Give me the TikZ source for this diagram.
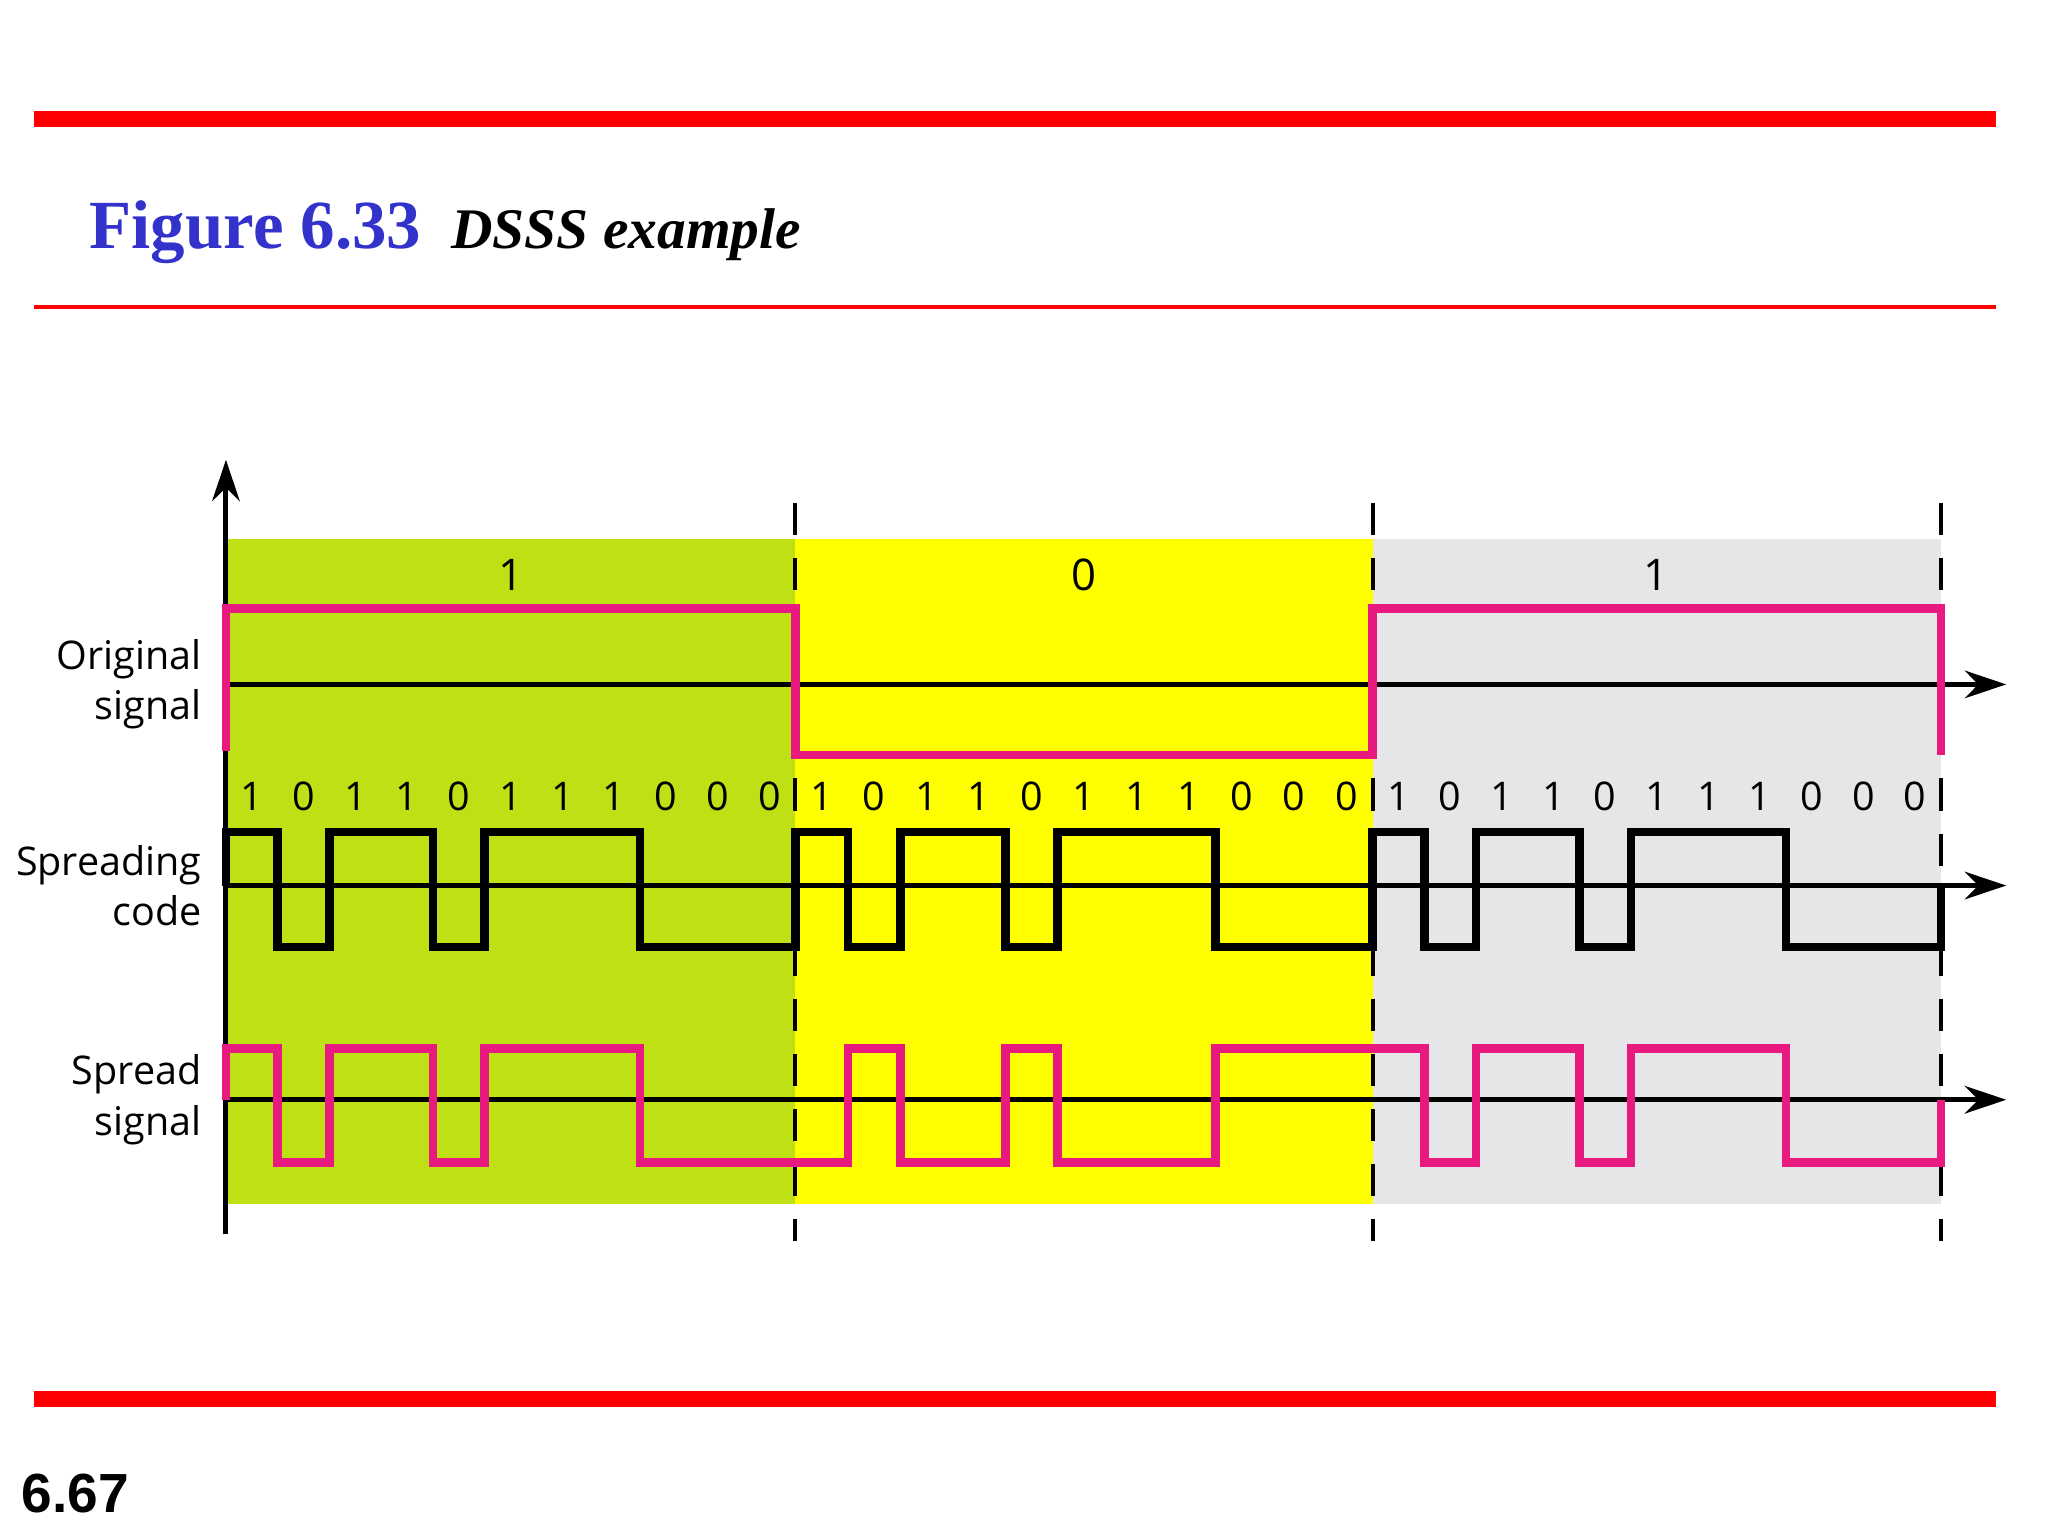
\documentclass[tikz,border=0pt]{standalone}
\usepackage{fontspec}
\setmainfont{Liberation Serif}
\newfontfamily\labf{Open Sans}
\newfontfamily\hvf{Liberation Sans}
\usetikzlibrary{arrows.meta}
\definecolor{pinkw}{HTML}{E8197F}
\definecolor{bggreen}{HTML}{BFE015}
\definecolor{bgyellow}{HTML}{FFFF00}
\definecolor{bggrey}{HTML}{E6E6E8}
\definecolor{titleblue}{HTML}{3333CC}
\definecolor{redbar}{HTML}{FF0000}
\tikzset{
  axisline/.style={line width=1.1pt,-{Stealth[length=9pt,width=6pt]}},
  dashline/.style={line width=0.9pt,dash pattern=on 7pt off 5pt},
  wave/.style={line width=1.9pt,line join=miter},
  lab/.style={font=\labf\fontsize{8.6}{11}\selectfont,align=right,anchor=east,inner sep=0pt},
  chiplab/.style={font=\labf\fontsize{8.6}{11}\selectfont},
}
\begin{document}
\begin{tikzpicture}[x=0.01cm,y=-0.01cm]
\useasboundingbox (0,0) rectangle (1568,1176);
% bars
\fill[redbar] (26,85) rectangle (1528,97);
\fill[redbar] (26,233.5) rectangle (1528,236.5);
\fill[redbar] (26,1065) rectangle (1528,1077);
\node[anchor=base west,inner sep=0,text=titleblue,font=\bfseries\fontsize{15}{18}\selectfont] (fig) at (68,190) {Figure 6.33};
\node[anchor=base west,inner sep=0,font=\bfseries\itshape\fontsize{12.5}{15}\selectfont] (ttl) at (345,190) {DSSS example};
\node[anchor=base west,inner sep=0,font=\hvf\bfseries\fontsize{12}{14}\selectfont] (pg) at (16,1158) {6.67};
% backgrounds
\fill[bggreen] (173,413) rectangle (609,922);
\fill[bgyellow] (609,413) rectangle (1051,922);
\fill[bggrey] (1051,413) rectangle (1486,922);
% dashed
\foreach \x/\n in {609/da,1051/db,1486/dc}{
  \coordinate (\n t) at (\x,385); \coordinate (\n b) at (\x,950);
  \draw[dashline] (\n t) -- (\n b);
}
% bit labels
\node[chiplab,font=\labf\fontsize{9.5}{12}\selectfont] (b1) at (391,440) {1};
\node[chiplab,font=\labf\fontsize{9.5}{12}\selectfont] (b2) at (830,440) {0};
\node[chiplab,font=\labf\fontsize{9.5}{12}\selectfont] (b3) at (1268,440) {1};
% axes
\coordinate (vb) at (173,945); \coordinate (vt) at (173,352);
\draw[axisline] (vb) -- (vt);
\foreach \y/\n in {524/a1,678/a2,842/a3}{
  \coordinate (\n s) at (173,\y); \coordinate (\n e) at (1536,\y);
  \draw[axisline] (\n s) -- (\n e);
}
% labels
\node[lab] (l1) at (155,524) {Original\\signal};
\node[lab] (l2) at (155,678) {Spreading\\code};
\node[lab] (l3) at (155,842) {Spread\\signal};
% original signal
\draw[wave,pinkw] (173,575) -- (173,466) -- (609,466) -- (609,578) -- (1051,578) -- (1051,466) -- (1486,466) -- (1486,578);
% chip labels
\foreach \s/\e in {173/609,609/1051,1051/1486}{
  \foreach \c [count=\i from 0, evaluate=\i as \xm using {\s+(\i+0.5)*(\e-\s)/11}] in {1,0,1,1,0,1,1,1,0,0,0}
    \node[chiplab] at (\xm,610) {\c};
}
% spreading code
\draw[wave,black] (173,678)
  \foreach \s/\e in {173/609,609/1051,1051/1486}{
    \foreach \c [count=\i from 0, evaluate=\i as \xa using {\s+\i*(\e-\s)/11}, evaluate=\i as \xb using {\s+(\i+1)*(\e-\s)/11}, evaluate=\c as \yc using {\c==1?637:725}] in {1,0,1,1,0,1,1,1,0,0,0}
      { -- (\xa,\yc) -- (\xb,\yc) }
  } -- (1486,678);
% spread signal
\draw[wave,pinkw] (173,842)
  \foreach \s/\e/\b in {173/609/1,609/1051/0,1051/1486/1}{
    \foreach \c [count=\i from 0, evaluate=\i as \xa using {\s+\i*(\e-\s)/11}, evaluate=\i as \xb using {\s+(\i+1)*(\e-\s)/11}, evaluate=\c as \yc using {\c==\b?803:890}] in {1,0,1,1,0,1,1,1,0,0,0}
      { -- (\xa,\yc) -- (\xb,\yc) }
  } -- (1486,842);
\end{tikzpicture}
\end{document}
